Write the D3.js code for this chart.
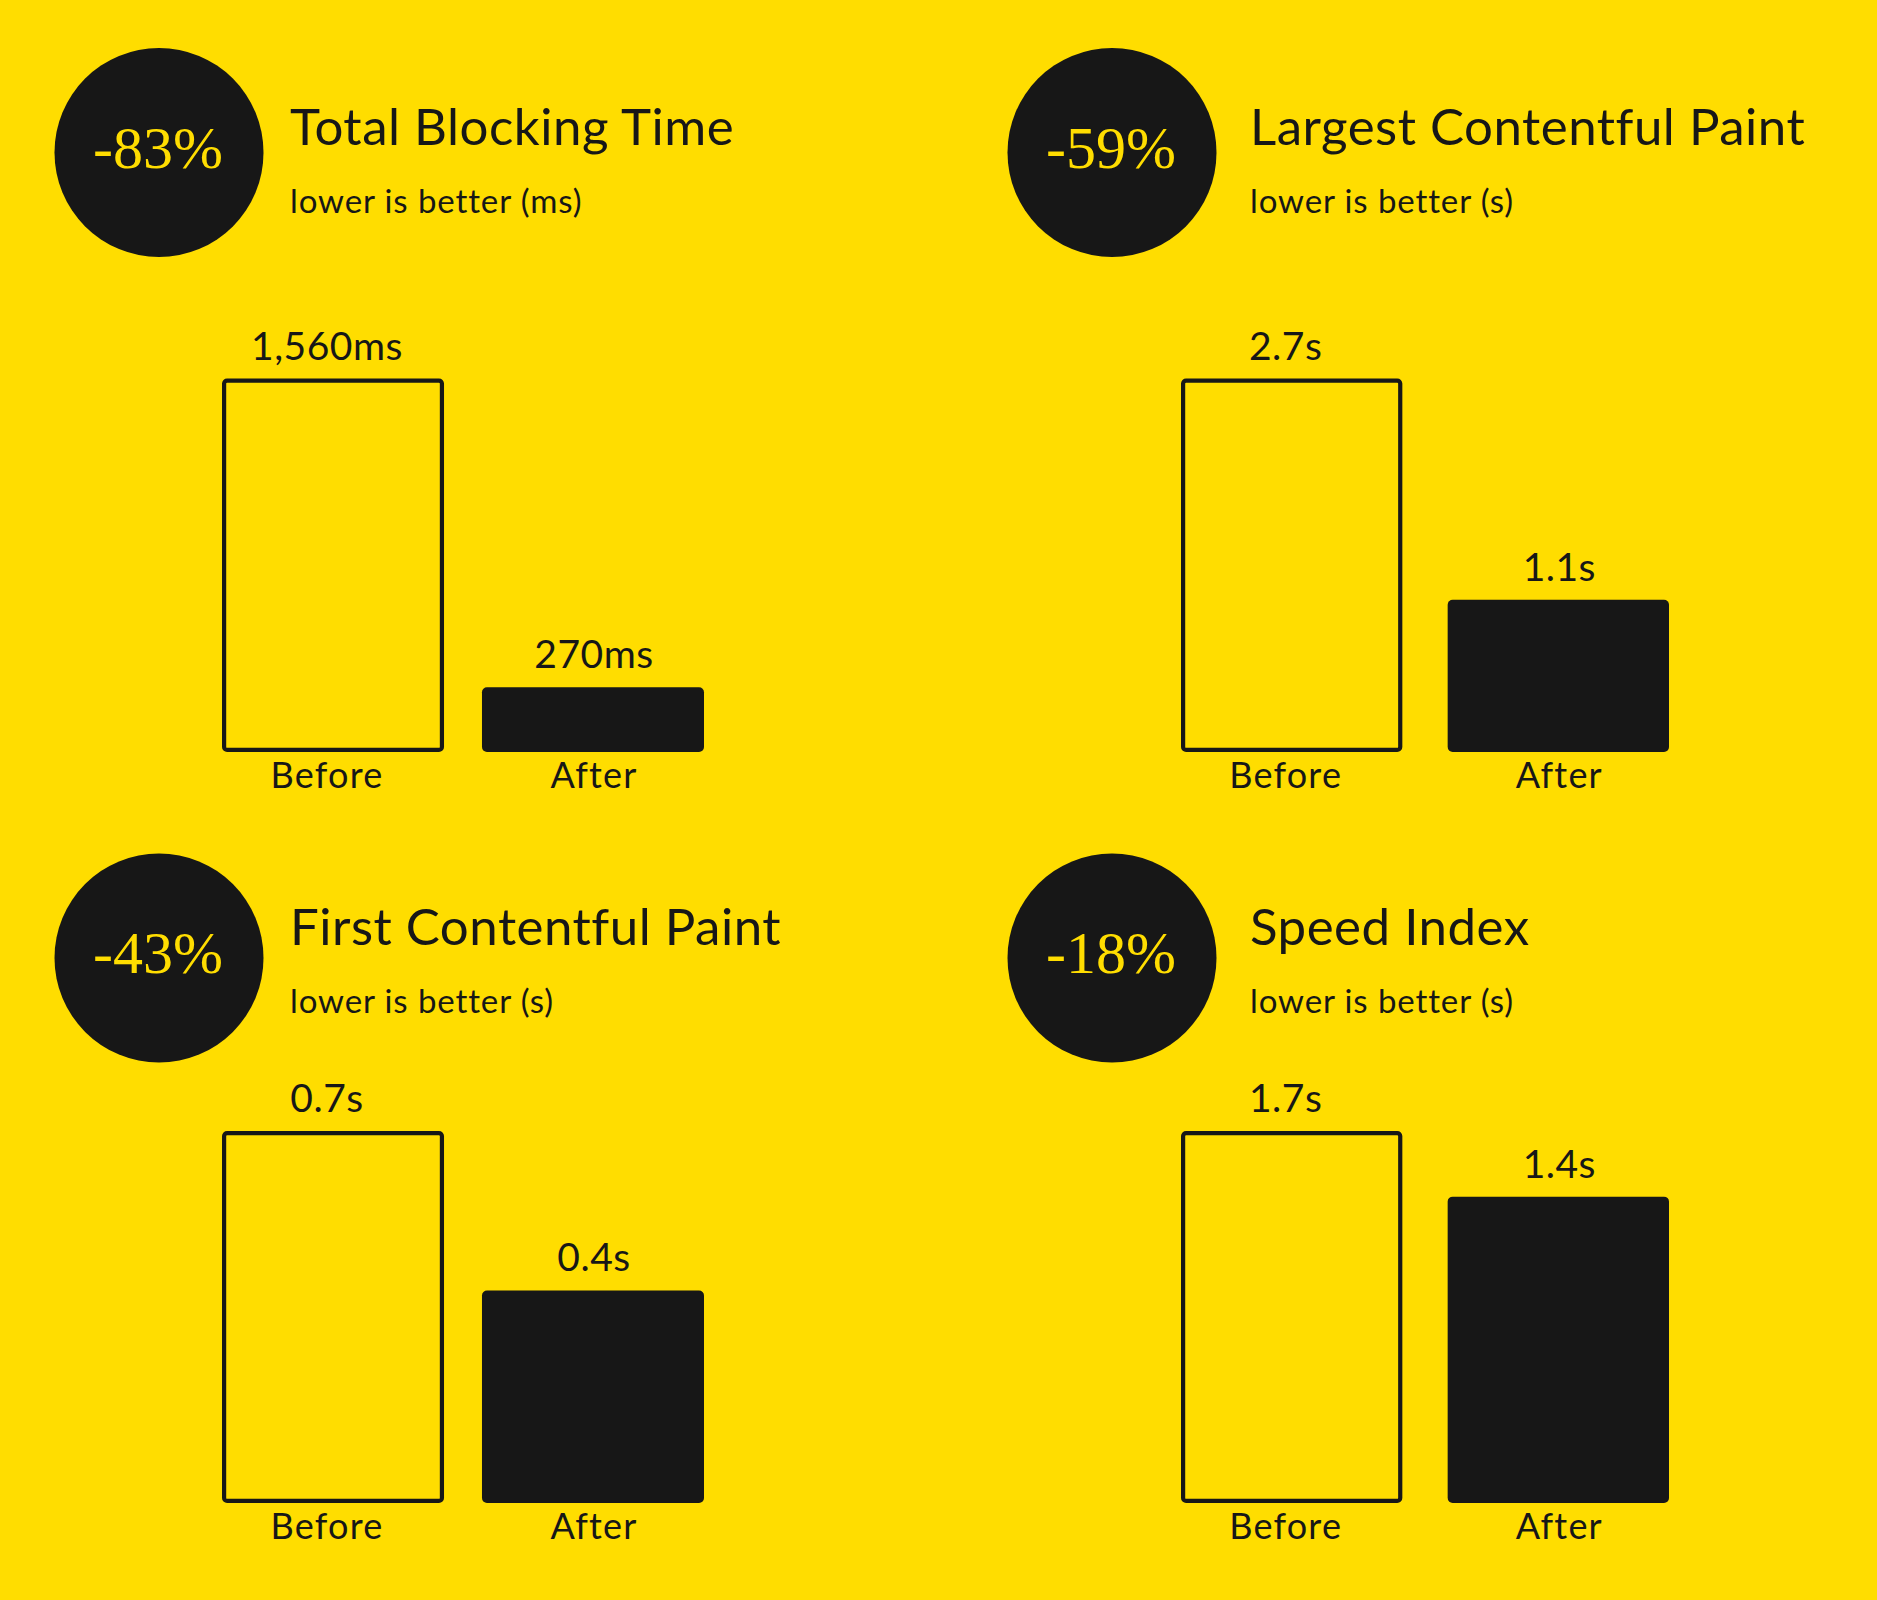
<!DOCTYPE html>
<html>
<head>
<meta charset="utf-8">
<script src="https://cdn.jsdelivr.net/npm/d3@7"></script>
<style>
  html, body { margin: 0; padding: 0; background: #FFDD00; }
  svg { display: block; }
</style>
</head>
<body>
<svg id="chart" width="1877" height="1600"></svg>
<script>
// ---- data ----
const metrics = ["Total Blocking Time", "Largest Contentful Paint", "First Contentful Paint", "Speed Index"];
const subtitles = ["lower is better (ms)", "lower is better (s)", "lower is better (s)", "lower is better (s)"];
const changes = ["-83%", "-59%", "-43%", "-18%"];
const categories = ["Before", "After"];
const beforeValues = [1560, 2.7, 0.7, 1.7];
const afterValues = [270, 1.1, 0.4, 1.4];
const units = ["ms", "s", "s", "s"];

// ---- layout ----
const W = 1877, H = 1600;
const YELLOW = "#FFDD00", DARK = "#171717";
const SANS = "Lato, 'Noto Sans', sans-serif";
const SERIF = "'Liberation Serif', 'DejaVu Serif', serif";

const colLayout = [
  { circleX: 159, titleX: 290, barRange: [222, 704], pad: 0.146 },
  { circleX: 1112, titleX: 1250, barRange: [1181, 1669], pad: 0.17 }
];
const rowLayout = [
  { circleY: 152.5, titleY: 145, subY: 213, plotTop: 378.5, plotBottom: 752 },
  { circleY: 958, titleY: 945, subY: 1013, plotTop: 1131, plotBottom: 1503 }
];
const labelShift = { Before: -6, After: 1 };

const svg = d3.select("#chart");
svg.append("rect").attr("width", W).attr("height", H).attr("fill", YELLOW);

const fmtMs = d3.format(",");
const fmtS = d3.format(".1f");
function label(v, u) { return (u === "ms" ? fmtMs(v) : fmtS(v)) + u; }

metrics.forEach((name, i) => {
  const col = colLayout[i % 2], row = rowLayout[Math.floor(i / 2)];
  const g = svg.append("g");

  // badge
  g.append("circle").attr("cx", col.circleX).attr("cy", row.circleY).attr("r", 104.5).attr("fill", DARK);
  g.append("text").attr("x", col.circleX - 1).attr("y", row.circleY + 15)
    .attr("text-anchor", "middle").attr("fill", YELLOW)
    .attr("font-family", SERIF).attr("font-size", 60).text(changes[i]);

  // title + subtitle
  g.append("text").attr("x", col.titleX).attr("y", row.titleY)
    .attr("fill", DARK).attr("font-family", SANS).attr("font-size", 51)
    .attr("letter-spacing", 0.5).text(name);
  g.append("text").attr("x", col.titleX).attr("y", row.subY)
    .attr("fill", DARK).attr("font-family", SANS).attr("font-size", 33)
    .attr("letter-spacing", 0.9).text(subtitles[i]);

  // scales
  const x = d3.scaleBand().domain(categories).range(col.barRange).paddingInner(col.pad).paddingOuter(0);
  const y = d3.scaleLinear().domain([0, beforeValues[i]]).range([row.plotBottom, row.plotTop]);
  const vals = [beforeValues[i], afterValues[i]];
  const data = categories.map((c, k) => ({ c, v: vals[k] }));

  const sw = 4.2;
  // Before: outlined bar
  g.append("rect")
    .attr("x", x("Before") + sw / 2).attr("y", y(data[0].v) + sw / 2)
    .attr("width", x.bandwidth() - sw).attr("height", y(0) - y(data[0].v) - sw)
    .attr("rx", 3).attr("fill", "none").attr("stroke", DARK).attr("stroke-width", sw);
  // After: filled bar
  g.append("rect")
    .attr("x", x("After")).attr("y", y(data[1].v))
    .attr("width", x.bandwidth()).attr("height", y(0) - y(data[1].v))
    .attr("rx", 5).attr("fill", DARK);

  // value labels
  g.selectAll("text.val").data(data).join("text").attr("class", "val")
    .attr("x", d => x(d.c) + x.bandwidth() / 2 + labelShift[d.c]).attr("y", d => y(d.v) - 19)
    .attr("text-anchor", "middle").attr("fill", DARK)
    .attr("font-family", SANS).attr("font-size", 39).attr("letter-spacing", 0.5)
    .text(d => label(d.v, units[i]));

  // category axis labels
  const axis = d3.axisBottom(x).tickSize(0).tickPadding(0);
  const ag = g.append("g").attr("transform", `translate(0,${row.plotBottom})`).call(axis);
  ag.select(".domain").remove();
  ag.selectAll("text").attr("dy", null).attr("y", 36)
    .attr("x", d => labelShift[d])
    .attr("fill", DARK).attr("font-family", SANS).attr("font-size", 36)
    .attr("letter-spacing", 1.2);
});
</script>
</body>
</html>
